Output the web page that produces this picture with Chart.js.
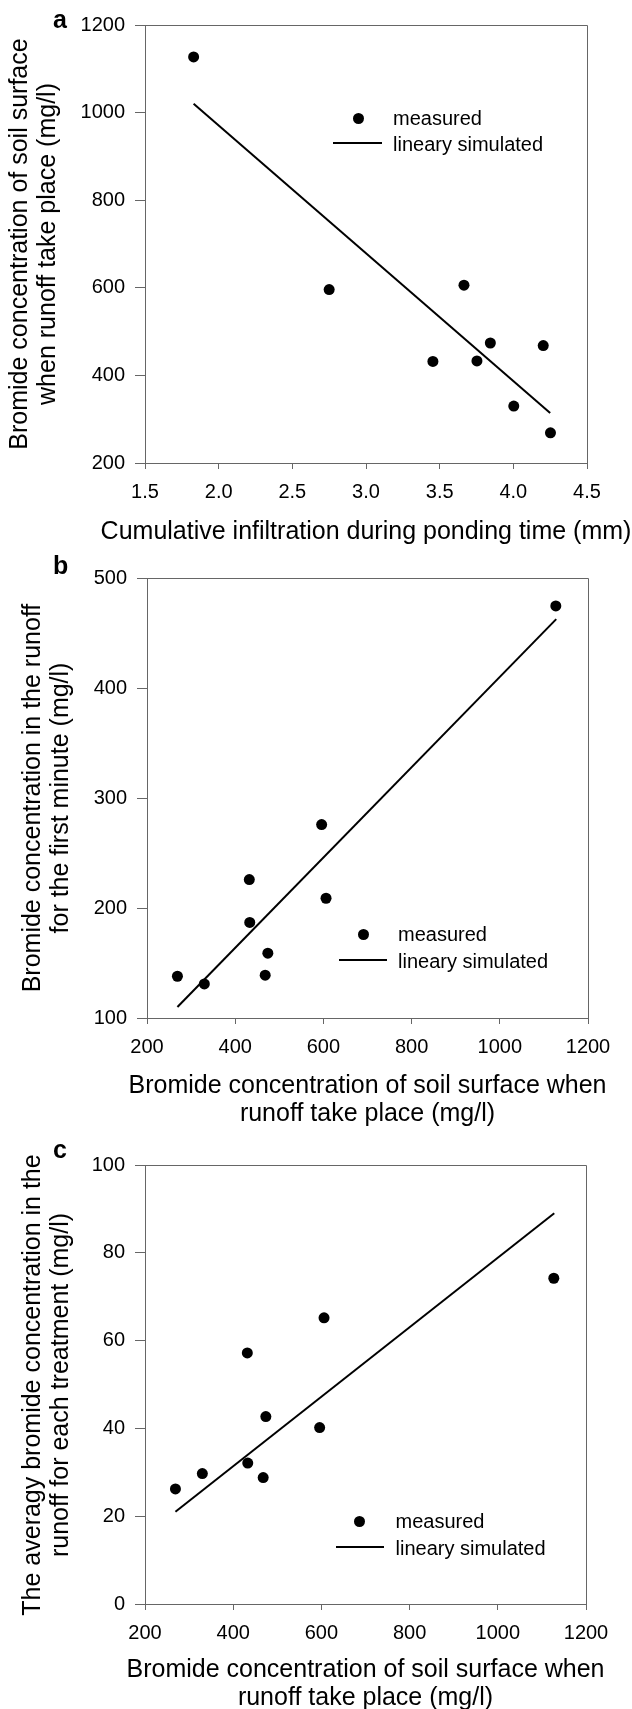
<!DOCTYPE html>
<html lang="en">
<head>
    <meta charset="UTF-8">
    <title>Bromide concentration and infiltration</title>
    <script src="https://cdn.jsdelivr.net/npm/chart.js"></script>
    <style>
        body { margin: 0; background: #fff; }
        #page {
            position: relative;
            width: 632px;
            height: 1709px;
            overflow: hidden;
            font-family: 'Liberation Sans', Arial, Helvetica, sans-serif;
            color: #000;
        }
        canvas { position: absolute; left: 0; display: block; }
        .tag { position: absolute; left: 53px; font-weight: bold; font-size: 25px; line-height: 25px; }
        .legend-text { position: absolute; font-size: 20px; line-height: 24px; white-space: nowrap; }
        .legend-dot { position: absolute; width: 11px; height: 11px; border-radius: 50%; background: #000; }
        .legend-line { position: absolute; height: 2px; background: #000; }
        .xtitle, .ytitle {
            position: absolute;
            width: 600px;
            font-size: 25px;
            line-height: 28px;
            text-align: center;
            white-space: nowrap;
        }
        .ytitle { height: 56px; transform: rotate(-90deg); }
    </style>
</head>
<body>
<div id="page">
    <canvas id="chartA" width="632" height="556" style="top:0px"></canvas>
    <canvas id="chartB" width="632" height="574" style="top:556px"></canvas>
    <canvas id="chartC" width="632" height="579" style="top:1130px"></canvas>

    <div class="tag" style="top:7px">a</div>
    <div class="tag" style="top:553px">b</div>
    <div class="tag" style="top:1137px">c</div>

    <!-- axis titles -->
    <div class="xtitle" style="left:66px; top:516px">Cumulative infiltration during ponding time (mm)</div>
    <div class="ytitle" style="left:-268px; top:216px">Bromide concentration of soil surface<br>when runoff take place (mg/l)</div>

    <div class="xtitle" style="left:67.5px; top:1070px">Bromide concentration of soil surface when<br>runoff take place (mg/l)</div>
    <div class="ytitle" style="left:-255px; top:770px">Bromide concentration in the runoff<br>for the first minute (mg/l)</div>

    <div class="xtitle" style="left:65.5px; top:1654px">Bromide concentration of soil surface when<br>runoff take place (mg/l)</div>
    <div class="ytitle" style="left:-255px; top:1356.5px">The averagy bromide concentration in the<br>runoff for each treatment (mg/l)</div>

    <!-- legends -->
    <div class="legend-dot" style="left:353px; top:113px"></div>
    <div class="legend-text" style="left:393px; top:106px">measured</div>
    <div class="legend-line" style="left:333px; top:142px; width:49px"></div>
    <div class="legend-text" style="left:393px; top:132px">lineary simulated</div>

    <div class="legend-dot" style="left:357.5px; top:928.5px"></div>
    <div class="legend-text" style="left:398px; top:922px">measured</div>
    <div class="legend-line" style="left:338.5px; top:959px; width:48px"></div>
    <div class="legend-text" style="left:398px; top:949px">lineary simulated</div>

    <div class="legend-dot" style="left:354px; top:1515.5px"></div>
    <div class="legend-text" style="left:395.5px; top:1509px">measured</div>
    <div class="legend-line" style="left:336px; top:1545.5px; width:48px"></div>
    <div class="legend-text" style="left:395.5px; top:1535.5px">lineary simulated</div>
</div>

<script>
    // one entry per treatment
    const infiltration = [1.83, 2.75, 3.665, 3.454, 3.753, 3.844, 4.203, 4.003, 4.252];
    const soilBromide = [1127, 596, 606, 432, 433, 474, 468, 330, 269];
    const firstMinuteBromide = [475, 276, 209, 226, 187, 159, 139, 131, 138];
    const averageBromide = [74.2, 40.2, 65.2, 57.2, 32.1, 42.7, 28.8, 29.7, 26.2];

    // end points of the fitted lines
    const fitInfiltration = [1.83, 4.25];
    const fitSoilA = [1020, 314];
    const fitSoil = [269, 1128];
    const fitFirstMinute = [110, 463];
    const fitAverage = [21, 89];

    const ticksInfiltration = [1.5, 2.0, 2.5, 3.0, 3.5, 4.0, 4.5];
    const ticksSoil = [200, 400, 600, 800, 1000, 1200];
    const ticksFirstMinute = [100, 200, 300, 400, 500];
    const ticksAverage = [0, 20, 40, 60, 80, 100];

    const FONT = "'Liberation Sans', Arial, Helvetica, sans-serif";
    const AXIS = '#666';

    const pts = (xs, ys) => xs.map((x, i) => ({ x: x, y: ys[i] }));
    const align = p => Math.round(p - 0.5) + 0.5;

    // top and right edges of the box
    const frame = {
        id: 'frame',
        beforeDatasetsDraw(chart) {
            const { ctx, chartArea } = chart;
            const l = align(chartArea.left), r = align(chartArea.right);
            const t = align(chartArea.top), b = align(chartArea.bottom);
            ctx.save();
            ctx.strokeStyle = AXIS;
            ctx.lineWidth = 1;
            ctx.beginPath();
            ctx.moveTo(l, t);
            ctx.lineTo(r, t);
            ctx.lineTo(r, b);
            ctx.stroke();
            ctx.restore();
        }
    };

    function makePanel(id, o) {
        return new Chart(document.getElementById(id), {
            type: 'scatter',
            data: {
                datasets: [
                    {
                        label: 'measured',
                        data: pts(o.x, o.y),
                        pointRadius: 5.5,
                        pointHoverRadius: 5.5,
                        pointBackgroundColor: '#000',
                        pointBorderWidth: 0,
                        showLine: false
                    },
                    {
                        label: 'lineary simulated',
                        data: pts(o.fitX, o.fitY),
                        showLine: true,
                        borderColor: '#000',
                        borderWidth: 2,
                        pointRadius: 0,
                        fill: false
                    }
                ]
            },
            options: {
                responsive: false,
                animation: false,
                devicePixelRatio: 1,
                layout: { padding: { top: o.padTop, right: o.padRight, left: 0, bottom: 0 } },
                plugins: { legend: { display: false }, tooltip: { enabled: false } },
                scales: {
                    x: {
                        type: 'linear',
                        min: o.xTicks[0],
                        max: o.xTicks[o.xTicks.length - 1],
                        afterBuildTicks: s => { s.ticks = o.xTicks.map(v => ({ value: v })); },
                        afterFit: s => { s.height = o.xHeight; },
                        ticks: {
                            font: { family: FONT, size: 20 },
                            color: '#000',
                            padding: 11,
                            maxRotation: 0,
                            autoSkip: false,
                            callback: o.xFmt
                        },
                        grid: { drawOnChartArea: false, drawTicks: true, tickLength: 6, color: AXIS, tickColor: AXIS },
                        border: { display: true, color: AXIS, width: 1 }
                    },
                    y: {
                        type: 'linear',
                        min: o.yTicks[0],
                        max: o.yTicks[o.yTicks.length - 1],
                        afterBuildTicks: s => { s.ticks = o.yTicks.map(v => ({ value: v })); },
                        afterFit: s => { s.width = o.yWidth; },
                        ticks: {
                            font: { family: FONT, size: 20 },
                            color: '#000',
                            padding: 10,
                            autoSkip: false,
                            callback: v => String(v)
                        },
                        grid: { drawOnChartArea: false, drawTicks: true, tickLength: 10, color: AXIS, tickColor: AXIS },
                        border: { display: true, color: AXIS, width: 1 }
                    }
                }
            },
            plugins: [frame]
        });
    }

    makePanel('chartA', {
        x: infiltration, y: soilBromide,
        fitX: fitInfiltration, fitY: fitSoilA,
        xTicks: ticksInfiltration, yTicks: ticksSoil,
        xFmt: v => v.toFixed(1),
        padTop: 25, padRight: 45, yWidth: 145, xHeight: 93
    });

    makePanel('chartB', {
        x: soilBromide, y: firstMinuteBromide,
        fitX: fitSoil, fitY: fitFirstMinute,
        xTicks: ticksSoil, yTicks: ticksFirstMinute,
        xFmt: v => String(v),
        padTop: 22.5, padRight: 44, yWidth: 147, xHeight: 112
    });

    makePanel('chartC', {
        x: soilBromide, y: averageBromide,
        fitX: fitSoil, fitY: fitAverage,
        xTicks: ticksSoil, yTicks: ticksAverage,
        xFmt: v => String(v),
        padTop: 35, padRight: 46, yWidth: 145, xHeight: 105
    });
</script>
</body>
</html>
